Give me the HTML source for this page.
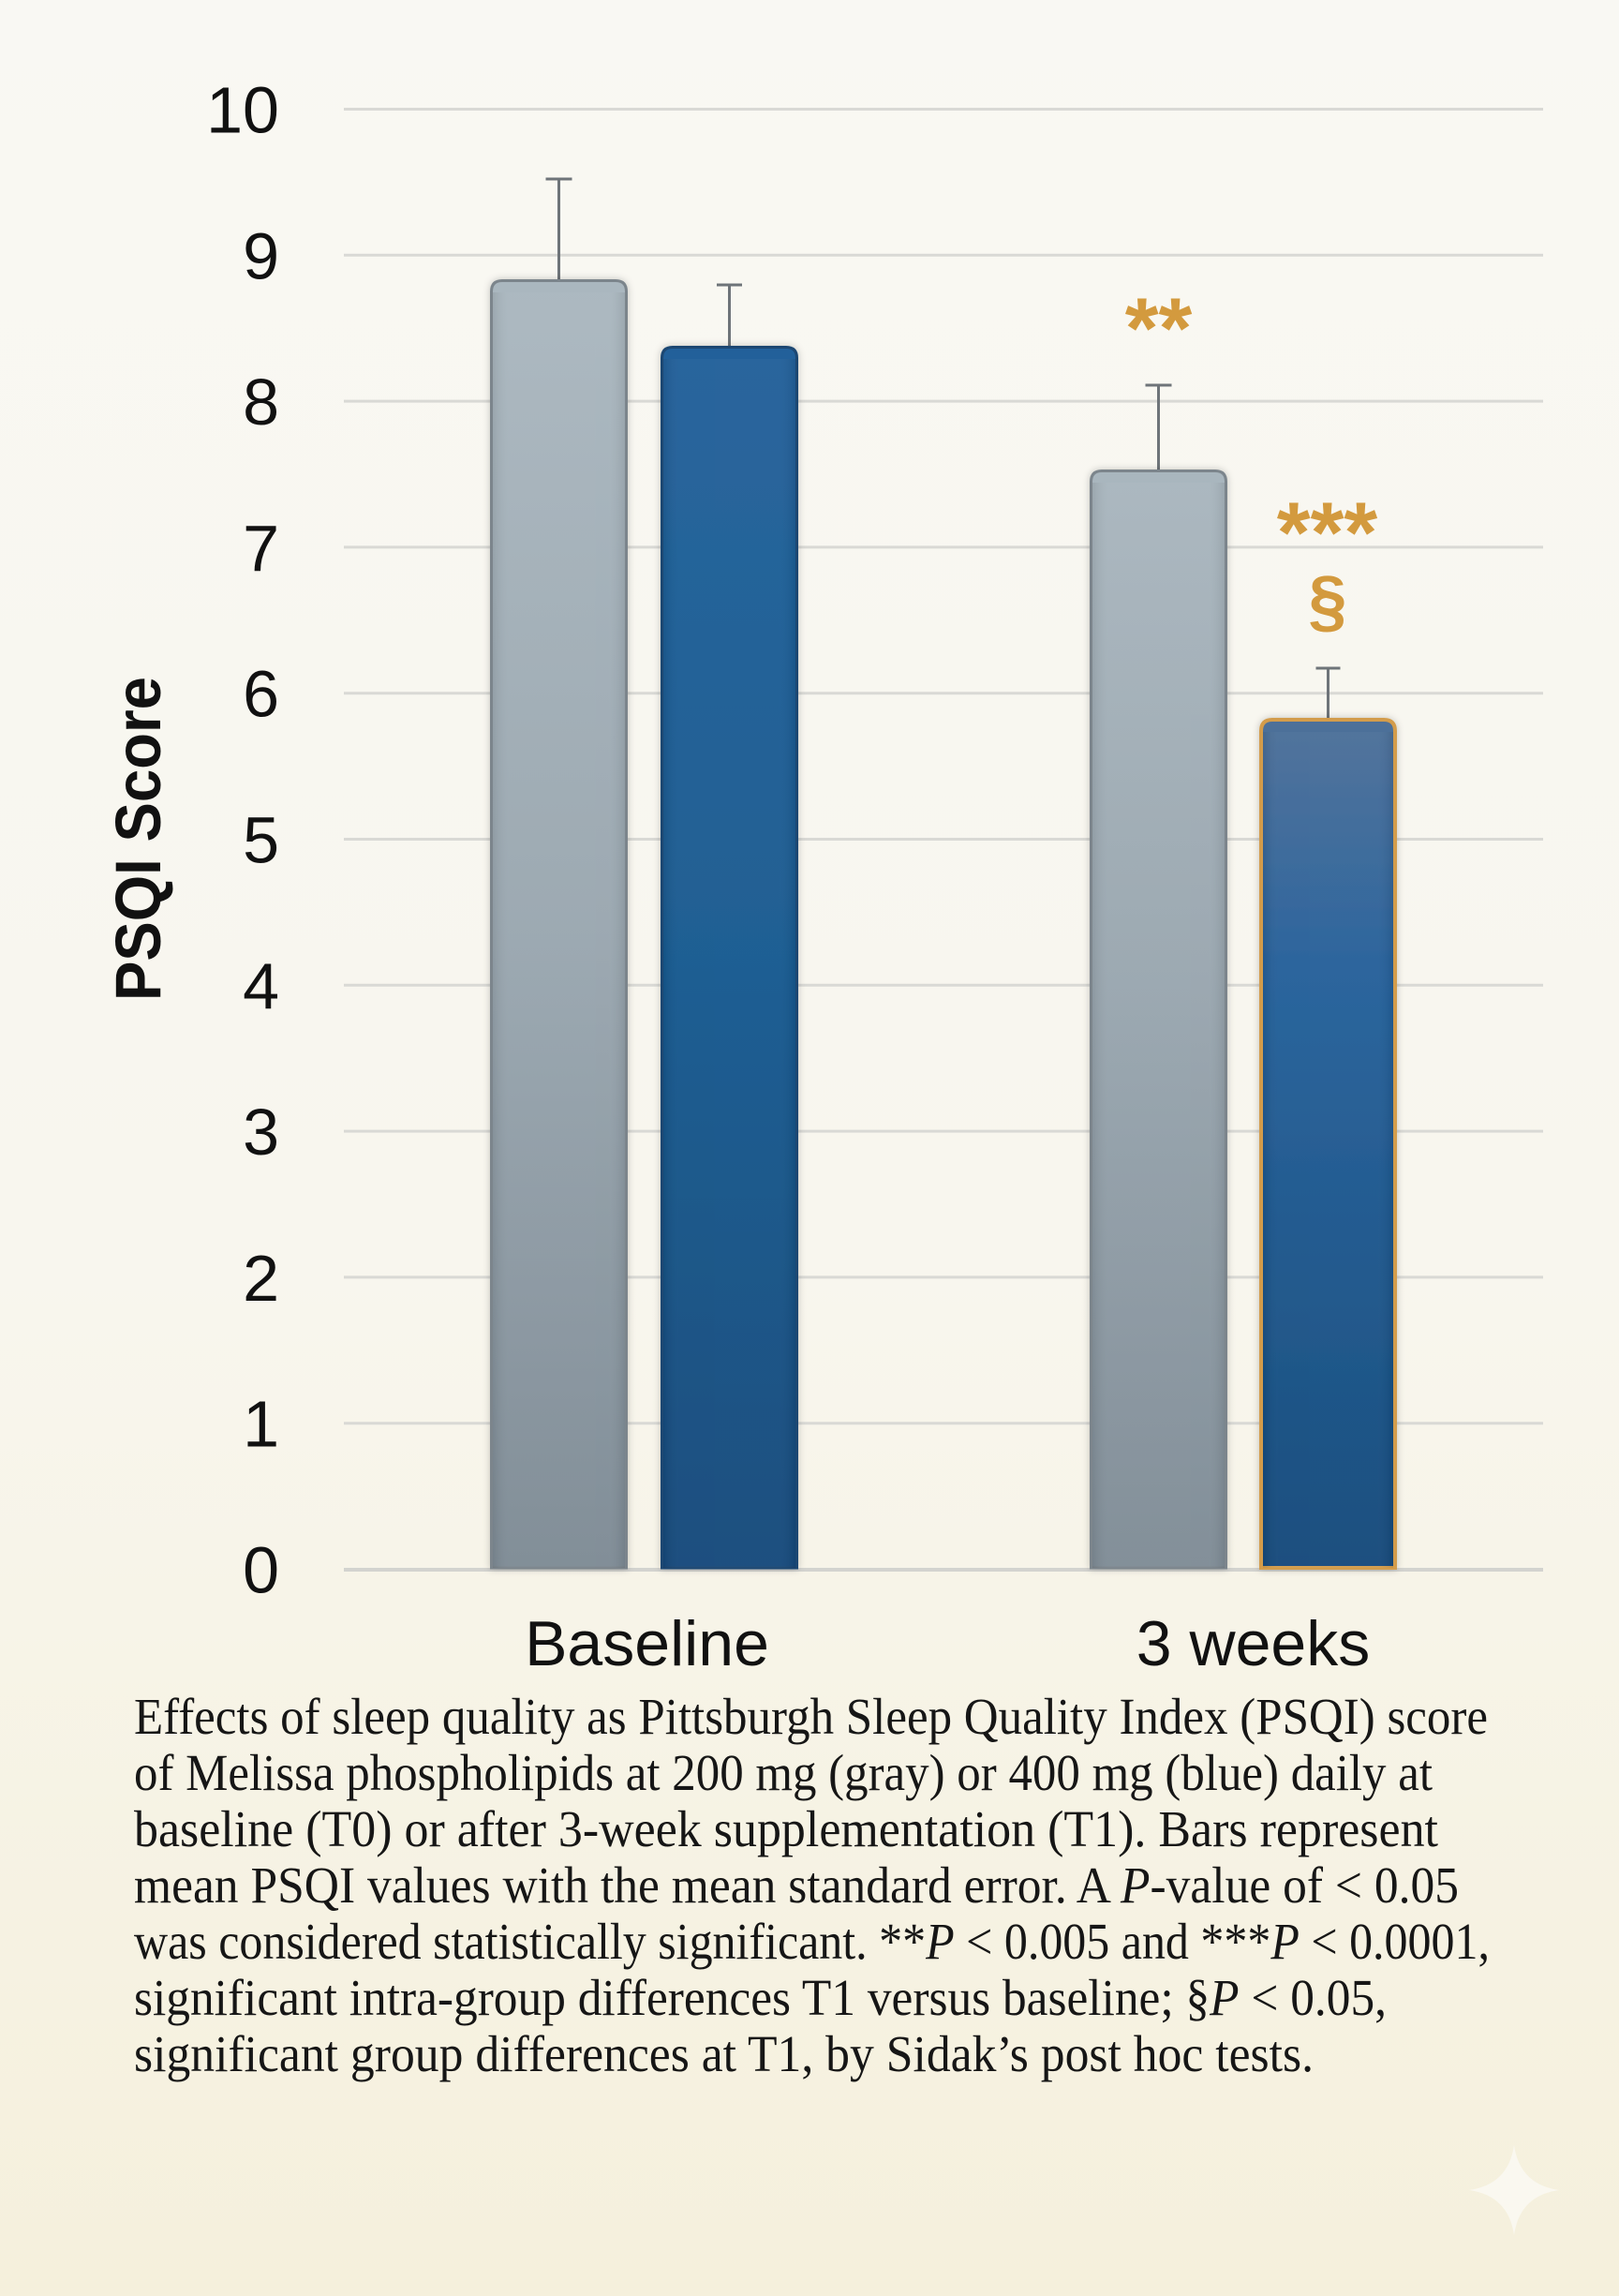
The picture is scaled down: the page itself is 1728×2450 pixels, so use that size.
<!DOCTYPE html>
<html>
<head>
<meta charset="utf-8">
<style>
  html,body{margin:0;padding:0;}
  body{width:1728px;height:2450px;overflow:hidden;}
  svg{display:block;}
</style>
</head>
<body>
<svg width="1728" height="2450" viewBox="0 0 1728 2450" xmlns="http://www.w3.org/2000/svg">
  <defs>
    <linearGradient id="bg" x1="0" y1="0" x2="0" y2="1">
      <stop offset="0" stop-color="#f9f8f3"/>
      <stop offset="0.55" stop-color="#f8f6ee"/>
      <stop offset="1" stop-color="#f5f0dc"/>
    </linearGradient>
    <linearGradient id="gGray" x1="0" y1="0" x2="0" y2="1">
      <stop offset="0" stop-color="#aab7bf"/>
      <stop offset="0.5" stop-color="#9aa7b0"/>
      <stop offset="1" stop-color="#7e8b95"/>
    </linearGradient>
    <linearGradient id="gGray2" x1="0" y1="0" x2="0" y2="1">
      <stop offset="0" stop-color="#a9b6be"/>
      <stop offset="0.45" stop-color="#9aa7b0"/>
      <stop offset="1" stop-color="#7f8c96"/>
    </linearGradient>
    <linearGradient id="gBlue" x1="0" y1="0" x2="0" y2="1">
      <stop offset="0" stop-color="#22609a"/>
      <stop offset="0.5" stop-color="#195a90"/>
      <stop offset="1" stop-color="#124a7b"/>
    </linearGradient>
    <linearGradient id="gBlue2" x1="0" y1="0" x2="0" y2="1">
      <stop offset="0" stop-color="#4e7099"/>
      <stop offset="0.3" stop-color="#25609a"/>
      <stop offset="1" stop-color="#134a7b"/>
    </linearGradient>
    <linearGradient id="shine" x1="0" y1="0" x2="1" y2="0">
      <stop offset="0" stop-color="#000" stop-opacity="0.10"/>
      <stop offset="0.12" stop-color="#fff" stop-opacity="0.04"/>
      <stop offset="0.88" stop-color="#fff" stop-opacity="0.04"/>
      <stop offset="1" stop-color="#000" stop-opacity="0.10"/>
    </linearGradient>
    <filter id="sh" x="-20%" y="-5%" width="140%" height="110%">
      <feDropShadow dx="0" dy="0" stdDeviation="4" flood-color="#000" flood-opacity="0.22"/>
    </filter>
  </defs>

  <rect x="0" y="0" width="1728" height="2450" fill="url(#bg)"/>

  <!-- gridlines -->
  <g stroke="#d9d9d5" stroke-width="3">
    <line x1="367" y1="116.5" x2="1647" y2="116.5"/>
    <line x1="367" y1="272.3" x2="1647" y2="272.3"/>
    <line x1="367" y1="428.1" x2="1647" y2="428.1"/>
    <line x1="367" y1="583.9" x2="1647" y2="583.9"/>
    <line x1="367" y1="739.7" x2="1647" y2="739.7"/>
    <line x1="367" y1="895.5" x2="1647" y2="895.5"/>
    <line x1="367" y1="1051.3" x2="1647" y2="1051.3"/>
    <line x1="367" y1="1207.1" x2="1647" y2="1207.1"/>
    <line x1="367" y1="1362.9" x2="1647" y2="1362.9"/>
    <line x1="367" y1="1518.7" x2="1647" y2="1518.7"/>
  </g>
  <line x1="367" y1="1675" x2="1647" y2="1675" stroke="#d3d3cf" stroke-width="4"/>

  <!-- y tick labels -->
  <g font-family="'Liberation Sans', sans-serif" font-size="70" fill="#111" text-anchor="end">
    <text x="298" y="141.5">10</text>
    <text x="298" y="297.3">9</text>
    <text x="298" y="453.1">8</text>
    <text x="298" y="608.9">7</text>
    <text x="298" y="764.7">6</text>
    <text x="298" y="920.5">5</text>
    <text x="298" y="1076.3">4</text>
    <text x="298" y="1232.1">3</text>
    <text x="298" y="1387.9">2</text>
    <text x="298" y="1543.7">1</text>
    <text x="298" y="1699.5">0</text>
  </g>

  <!-- y axis title -->
  <text transform="translate(171,895) rotate(-90)" font-family="'Liberation Sans', sans-serif" font-weight="bold" font-size="69" fill="#111" text-anchor="middle" textLength="346" lengthAdjust="spacingAndGlyphs">PSQI Score</text>

  <!-- error bars -->
  <g stroke="#6e7479" stroke-width="3" fill="none">
    <line x1="596.5" y1="191" x2="596.5" y2="300"/>
    <line x1="582.5" y1="191" x2="610.5" y2="191"/>
    <line x1="778.5" y1="304" x2="778.5" y2="371"/>
    <line x1="765" y1="304" x2="792" y2="304"/>
    <line x1="1236.5" y1="411" x2="1236.5" y2="503"/>
    <line x1="1222.5" y1="411" x2="1250.5" y2="411"/>
    <line x1="1417.5" y1="713" x2="1417.5" y2="768"/>
    <line x1="1404.5" y1="713" x2="1430.5" y2="713"/>
  </g>

  <!-- bars -->
  <g filter="url(#sh)">
    <path d="M524.5,1673 L524.5,311 Q524.5,299.5 536,299.5 L657,299.5 Q668.5,299.5 668.5,311 L668.5,1673 Z" fill="url(#gGray)" stroke="#7b858c" stroke-width="3"/>
    <path d="M706.5,1673 L706.5,382 Q706.5,370.5 718,370.5 L839,370.5 Q850.5,370.5 850.5,382 L850.5,1673 Z" fill="url(#gBlue)" stroke="#1b4672" stroke-width="3"/>
    <path d="M1164.5,1673 L1164.5,514 Q1164.5,502.5 1176,502.5 L1297,502.5 Q1308.5,502.5 1308.5,514 L1308.5,1673 Z" fill="url(#gGray2)" stroke="#7b858c" stroke-width="3"/>
    <path d="M1346,1673 L1346,780 Q1346,768 1358,768 L1477,768 Q1489,768 1489,780 L1489,1673 Z" fill="url(#gBlue2)" stroke="#d39c4c" stroke-width="4"/>
  </g>
  <!-- subtle side shading -->
  <g opacity="0.8">
    <rect x="526" y="312" width="141" height="1361" fill="url(#shine)"/>
    <rect x="708" y="383" width="141" height="1290" fill="url(#shine)"/>
    <rect x="1166" y="515" width="141" height="1158" fill="url(#shine)"/>
    <rect x="1348" y="781" width="139" height="892" fill="url(#shine)"/>
  </g>

  <!-- significance markers -->
  <g font-family="'Liberation Sans', sans-serif" font-weight="bold" fill="#d39a3e" text-anchor="middle">
    <text x="1236.5" y="382" font-size="92">**</text>
    <text x="1416.5" y="600" font-size="92">***</text>
    <text x="1417" y="666" font-size="74">§</text>
  </g>

  <!-- x labels -->
  <g font-family="'Liberation Sans', sans-serif" font-size="68" fill="#111" text-anchor="middle">
    <text x="690.5" y="1777">Baseline</text>
    <text x="1337.5" y="1777">3 weeks</text>
  </g>

  <!-- caption -->
  <g font-family="'Liberation Serif', serif" font-size="55" fill="#161616">
    <text x="143" y="1850" textLength="1445" lengthAdjust="spacingAndGlyphs">Effects of sleep quality as Pittsburgh Sleep Quality Index (PSQI) score</text>
    <text x="143" y="1910" textLength="1386" lengthAdjust="spacingAndGlyphs">of Melissa phospholipids at 200 mg (gray) or 400 mg (blue) daily at</text>
    <text x="143" y="1970" textLength="1392" lengthAdjust="spacingAndGlyphs">baseline (T0) or after 3-week supplementation (T1). Bars represent</text>
    <text x="143" y="2030" textLength="1414" lengthAdjust="spacingAndGlyphs">mean PSQI values with the mean standard error. A <tspan font-style="italic">P</tspan>-value of &lt; 0.05</text>
    <text x="143" y="2090" textLength="1447" lengthAdjust="spacingAndGlyphs">was considered statistically significant. **<tspan font-style="italic">P</tspan> &lt; 0.005 and ***<tspan font-style="italic">P</tspan> &lt; 0.0001,</text>
    <text x="143" y="2150" textLength="1337" lengthAdjust="spacingAndGlyphs">significant intra-group differences T1 versus baseline; §<tspan font-style="italic">P</tspan> &lt; 0.05,</text>
    <text x="143" y="2210" textLength="1259" lengthAdjust="spacingAndGlyphs">significant group differences at T1, by Sidak’s post hoc tests.</text>
  </g>

  <!-- sparkle -->
  <path d="M1616,2289 Q1622,2331 1664,2337 Q1622,2343 1616,2385 Q1610,2343 1568,2337 Q1610,2331 1616,2289 Z" fill="#faf8f0"/>
</svg>
</body>
</html>
